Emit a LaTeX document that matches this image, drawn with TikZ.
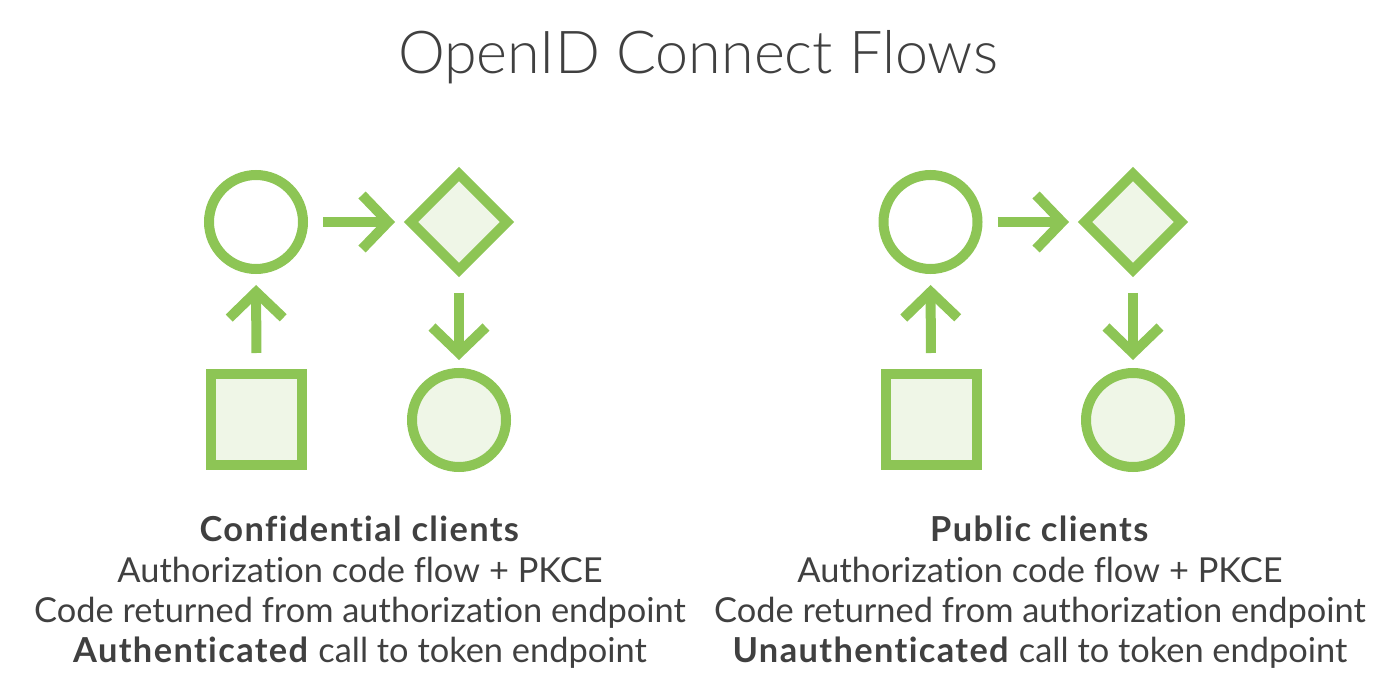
\documentclass[tikz,border=0pt]{standalone}
\usepackage{fontspec}
\setmainfont{Lato}[Ligatures=NoCommon, BoldFeatures={LetterSpace=4}]
\newfontfamily\titlefont{Lato Light}[Ligatures=NoCommon]
\usetikzlibrary{shapes.geometric,arrows.meta}
\definecolor{flowgreen}{RGB}{141,197,85}
\definecolor{flowfill}{RGB}{239,246,231}
\definecolor{inktext}{RGB}{64,64,64}
\tikzset{
  shape base/.style={draw=flowgreen, line width=10pt, inner sep=0pt, outer sep=0pt},
  ringnode/.style={shape base, circle, minimum size=94pt},
  ringfilled/.style={ringnode, fill=flowfill},
  boxnode/.style={shape base, rectangle, fill=flowfill, minimum size=91pt},
  gemnode/.style={shape base, diamond, aspect=1, fill=flowfill, minimum size=96pt},
  flowarrow/.style={draw=flowgreen, line width=10pt,
    -{Straight Barb[length=26pt, width=54pt]}},
  headline/.style={font=\fontsize{34.4}{40}\selectfont, text=inktext, anchor=base, inner sep=0pt},
}
\begin{document}
\begin{tikzpicture}[x=1pt, y=-1pt]
  \useasboundingbox (0,0) rectangle (1388,692);
  \node[font=\titlefont\fontsize{59.2}{59.2}\selectfont, text=inktext, anchor=base, inner sep=0pt]
    (title) at (698,74) {OpenID Connect Flows};

  % Confidential clients flow
  \node[ringnode]   (lc1) at (256,222) {};
  \node[gemnode]    (ld)  at (459,222) {};
  \node[boxnode]    (ls)  at (256.5,419.5) {};
  \node[ringfilled] (lc2) at (459,420) {};
  \draw[flowarrow, shorten <=20pt, shorten >=16pt] (lc1.east) -- (ld.west);
  \draw[flowarrow, shorten <=21pt, shorten >=16pt] (ls.north) -- (lc1.south);
  \draw[flowarrow, shorten <=23pt, shorten >=13pt] (ld.south) -- (lc2.north);

  % Public clients flow
  \node[ringnode]   (rc1) at (930.5,222) {};
  \node[gemnode]    (rd)  at (1133,222) {};
  \node[boxnode]    (rs)  at (931,419.5) {};
  \node[ringfilled] (rc2) at (1133,420) {};
  \draw[flowarrow, shorten <=20pt, shorten >=16pt] (rc1.east) -- (rd.west);
  \draw[flowarrow, shorten <=21pt, shorten >=16pt] (rs.north) -- (rc1.south);
  \draw[flowarrow, shorten <=23pt, shorten >=13pt] (rd.south) -- (rc2.north);

  % Captions
  \node[headline] (lt1) at (360,541) {\textbf{Confidential clients}};
  \node[headline] (lt2) at (360,582) {Authorization code flow + PKCE};
  \node[headline] (lt3) at (360,622) {Code returned from authorization endpoint};
  \node[headline] (lt4) at (360,662) {\textbf{Authenticated} call to token endpoint};

  \node[headline] (rt1) at (1040,541) {\textbf{Public clients}};
  \node[headline] (rt2) at (1040,582) {Authorization code flow + PKCE};
  \node[headline] (rt3) at (1040,622) {Code returned from authorization endpoint};
  \node[headline] (rt4) at (1040,662) {\textbf{Unauthenticated} call to token endpoint};
\end{tikzpicture}
\end{document}
